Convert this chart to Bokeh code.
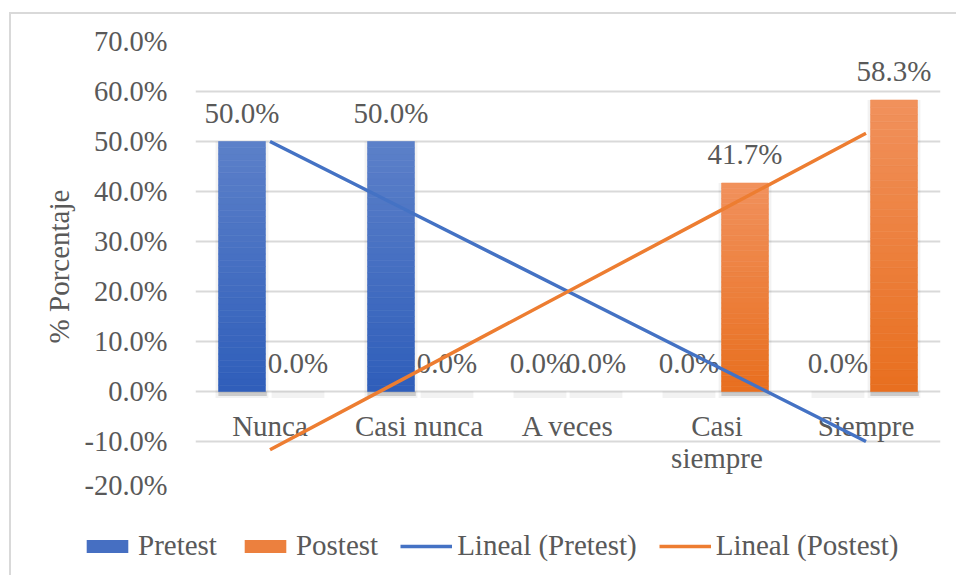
import numpy as np
from bokeh.plotting import figure
from bokeh.layouts import column
from bokeh.models import (ColumnDataSource, FactorRange, Range1d, FixedTicker,
                          PrintfTickFormatter, Legend, LegendItem, InlineStyleSheet)
from bokeh.transform import dodge
from bokeh.core.properties import value
from bokeh.embed import file_html
from bokeh.resources import INLINE

# ---- data -------------------------------------------------------------
categories = ["Nunca", "Casi nunca", "A veces", "Casi siempre", "Siempre"]
category_labels = ["Nunca", "Casi nunca", "A veces", "Casi\nsiempre", "Siempre"]
pretest = [50.0, 50.0, 0.0, 0.0, 0.0]
postest = [0.0, 0.0, 0.0, 41.7, 58.3]
y_ticks = [-20, -10, 0, 10, 20, 30, 40, 50, 60, 70]
legend_labels = ["Pretest", "Postest", "Lineal (Pretest)", "Lineal (Postest)"]

# ---- styling ----------------------------------------------------------
FONT = "Liberation Serif"
FS = "29px"
TEXT = "#595959"
GRID = "#D9D9D9"
BLUE = "#4472C4"
ORANGE = "#ED7D31"
BLUE_TOP, BLUE_BOTTOM = "#5C80C9", "#2F5EBA"
ORANGE_TOP, ORANGE_BOTTOM = "#F1915C", "#E86F1F"
BAR_W = 0.315
OFFSET = 0.188

p = figure(width=956, height=500,
           x_range=FactorRange(*categories, range_padding=0),
           y_range=Range1d(-20, 70),
           x_axis_location=None,
           min_border_left=195, min_border_right=16,
           min_border_top=41, min_border_bottom=9,
           output_backend="svg", toolbar_location=None)
p.frame_align = False
p.outline_line_color = None
p.background_fill_color = "white"
p.border_fill_color = "white"

p.xgrid.grid_line_color = None
p.ygrid.grid_line_color = GRID
p.ygrid.grid_line_width = 2
p.ygrid.ticker = FixedTicker(ticks=y_ticks)

ax = p.yaxis[0]
ax.ticker = FixedTicker(ticks=y_ticks)
ax.formatter = PrintfTickFormatter(format="%.1f%%")
ax.axis_line_color = None
ax.major_tick_line_color = None
ax.minor_tick_line_color = None
ax.major_tick_in = 0
ax.major_tick_out = 0
ax.major_label_standoff = 28
ax.major_label_text_font = FONT
ax.major_label_text_font_size = "28.5px"
ax.major_label_text_color = TEXT
ax.axis_label = "% Porcentaje"
ax.axis_label_text_font = FONT
ax.axis_label_text_font_size = FS
ax.axis_label_text_font_style = "normal"
ax.axis_label_text_color = TEXT
ax.axis_label_standoff = 6


def hex_rgb(h):
    h = h.lstrip("#")
    return tuple(int(h[i:i + 2], 16) for i in (0, 2, 4))


def mix(c0, c1, t):
    a, b = hex_rgb(c0), hex_rgb(c1)
    return "#%02x%02x%02x" % tuple(round(a[i] + (b[i] - a[i]) * t) for i in range(3))


def gradient_source(vals, top_hex, bottom_hex, n=40):
    cols = dict(cat=[], bottom=[], top=[], color=[])
    for cat, v in zip(categories, vals):
        if v <= 0:
            continue
        for i in range(n):
            cols["cat"].append(cat)
            cols["bottom"].append(v * i / n)
            cols["top"].append(v * (i + 1) / n)
            cols["color"].append(mix(bottom_hex, top_hex, (i + 0.5) / n))
    return ColumnDataSource(cols)


for vals, off, top_c, bot_c in [(pretest, -OFFSET, BLUE_TOP, BLUE_BOTTOM),
                                (postest, OFFSET, ORANGE_TOP, ORANGE_BOTTOM)]:
    # soft drop shadow under every bar (faint smudge for empty ones)
    sh = ColumnDataSource(dict(cat=categories, top=vals))
    p.vbar(x=dodge("cat", off, range=p.x_range), top="top", bottom=-1.3,
           width=BAR_W + 0.04, source=sh, fill_color="black", fill_alpha=0.05,
           line_color=None)
    full = ColumnDataSource(dict(cat=[c for c, v in zip(categories, vals) if v > 0]))
    p.vbar(x=dodge("cat", off + 0.004, range=p.x_range), top=0, bottom=-0.9,
           width=BAR_W + 0.01, source=full, fill_color="black", fill_alpha=0.16,
           line_color=None)
    # gradient bar body
    src = gradient_source(vals, top_c, bot_c)
    p.vbar(x=dodge("cat", off, range=p.x_range), top="top", bottom="bottom",
           width=BAR_W, source=src, fill_color="color", line_color="color",
           line_width=0.6)

# data labels
for vals, off in [(pretest, -OFFSET), (postest, OFFSET)]:
    lab = ColumnDataSource(dict(cat=categories, y=vals,
                                txt=["%.1f%%" % v for v in vals]))
    p.text(x=dodge("cat", off, range=p.x_range), y="y", text="txt", source=lab,
           text_align="center", text_baseline="alphabetic", y_offset=-29,
           text_font=value(FONT), text_font_size=FS, text_color=TEXT)

# category labels along the zero line
cat_src = ColumnDataSource(dict(cat=categories, y=[0] * len(categories),
                                txt=category_labels))
p.text(x="cat", y="y", text="txt", source=cat_src, text_align="center",
       text_baseline="top", y_offset=18, text_line_height=1.02,
       text_font=value(FONT), text_font_size=FS, text_color=TEXT)

# linear trend lines
idx = np.arange(1, len(categories) + 1)


def linear_trend(vals):
    m, b = np.polyfit(idx, vals, 1)
    return (m * idx + b).tolist()


p.line(x=categories, y=linear_trend(pretest), line_color=BLUE, line_width=3.5)
p.line(x=categories, y=linear_trend(postest), line_color=ORANGE, line_width=3.5)

# ---- legend strip under the chart ------------------------------------
lg = figure(width=956, height=75, x_range=Range1d(0, 1), y_range=Range1d(0, 1),
            x_axis_location=None, y_axis_location=None,
            min_border=0, output_backend="svg", toolbar_location=None)
lg.frame_align = False
lg.grid.visible = False
lg.outline_line_color = None
lg.background_fill_color = "white"
lg.border_fill_color = "white"

# swatch renderers: one point each, parked outside the visible ranges
sw_pre = lg.vbar(x=[-5], top=[-5], bottom=[-6], width=0.1,
                 fill_color=mix(BLUE_BOTTOM, BLUE_TOP, 0.5), line_color=None)
sw_post = lg.vbar(x=[-5], top=[-5], bottom=[-6], width=0.1,
                  fill_color=mix(ORANGE_BOTTOM, ORANGE_TOP, 0.5), line_color=None)
sw_tpre = lg.line(x=[-6, -5], y=[-5, -5], line_color=BLUE, line_width=3.5)
sw_tpost = lg.line(x=[-6, -5], y=[-5, -5], line_color=ORANGE, line_width=3.5)

legend = Legend(items=[LegendItem(label=value(t), renderers=[r]) for t, r in
                       zip(legend_labels, [sw_pre, sw_post, sw_tpre, sw_tpost])],
                orientation="horizontal", location=(81, 13),
                glyph_width=52, glyph_height=16, label_standoff=5, spacing=22,
                padding=0, margin=0, border_line_color=None,
                background_fill_alpha=0,
                label_text_font=FONT, label_text_font_size=FS,
                label_text_color=TEXT)
lg.add_layout(legend)

page = column(p, lg, spacing=0)
# light frame around the whole chart area (top and left edges are visible)
page.stylesheets = [InlineStyleSheet(css="""
:host::after {
  content: ""; position: absolute; left: 9px; top: 12px; right: 0; bottom: 0;
  border-left: 2px solid #D9D9D9; border-top: 2px solid #D9D9D9;
  pointer-events: none;
}
""")]

open("out.html", "w").write(file_html(page, INLINE))
